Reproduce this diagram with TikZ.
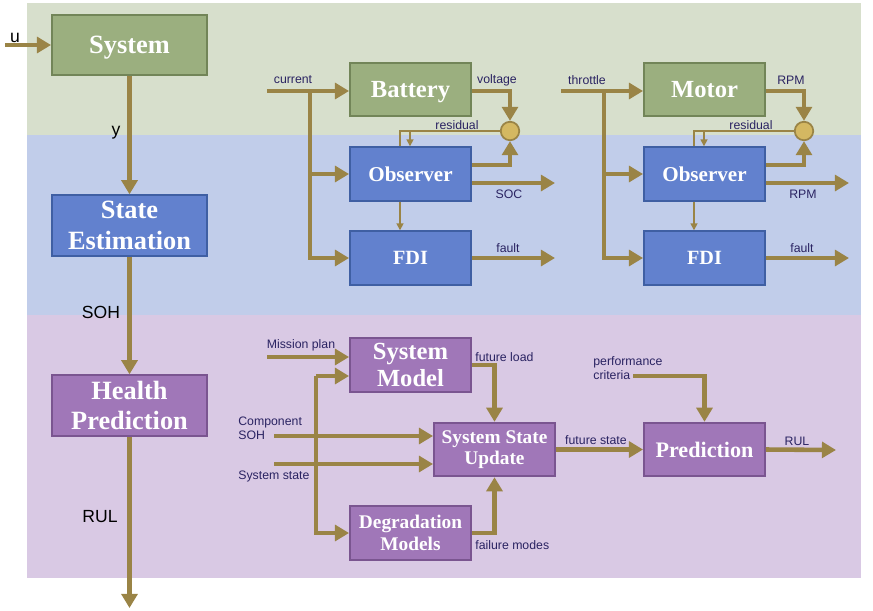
\documentclass[tikz,border=0pt]{standalone}
\usepackage{fontspec}
\setmainfont{Liberation Serif}
\setsansfont{Liberation Sans}
\usetikzlibrary{positioning, arrows.meta, calc}

\definecolor{bandgreen}{HTML}{D7DFCC}
\definecolor{bandblue}{HTML}{C1CDEA}
\definecolor{bandpurple}{HTML}{D9C9E4}
\definecolor{greenfill}{HTML}{9BAF7F}
\definecolor{greenline}{HTML}{728558}
\definecolor{bluefill}{HTML}{6281CE}
\definecolor{blueline}{HTML}{3F5FA3}
\definecolor{purplefill}{HTML}{A077B8}
\definecolor{purpleline}{HTML}{7A5590}
\definecolor{arrowcol}{HTML}{9A8446}
\definecolor{sumfill}{HTML}{D4B862}
\definecolor{labtxt}{HTML}{2A2362}

\newcommand{\fsz}[2]{\fontsize{#1}{#2}\selectfont}

\begin{document}
\begin{tikzpicture}[x=0.02cm, y=-0.02cm,
    box/.style={draw, line width=1.1pt, text=white, font=\bfseries, align=center, inner sep=0pt},
    greenbox/.style={box, fill=greenfill, draw=greenline},
    bluebox/.style={box, fill=bluefill, draw=blueline},
    purplebox/.style={box, fill=purplefill, draw=purpleline},
    bigbox/.style={minimum width=3.1cm, minimum height=1.21cm},
    smallbox/.style={minimum width=2.42cm, minimum height=1.07cm},
    flow/.style={draw=arrowcol, line width=2.6pt, -{Triangle[length=8pt,width=9pt]}},
    fine/.style={draw=arrowcol, line width=0.9pt},
    finearrow/.style={fine, -{Triangle[length=4pt,width=4pt]}},
    sumnode/.style={circle, draw=arrowcol, fill=sumfill, line width=1pt, minimum size=0.37cm, inner sep=0pt},
    lab/.style={font=\sffamily\fsz{7}{8}, text=labtxt, inner sep=0pt},
    mainlab/.style={font=\sffamily\fsz{10}{11}, text=black, inner sep=0pt}]

    \useasboundingbox (0,0) rectangle (873,610);

    % bands
    \fill[bandgreen] (27,3) rectangle (861,135);
    \fill[bandblue] (27,135) rectangle (861,315);
    \fill[bandpurple] (27,315) rectangle (861,578);

    % main chain
    \node[greenbox, bigbox, font=\bfseries\fsz{15}{17}, text depth=0pt] (system) at (129.5,45) {System};
    \node[bluebox, bigbox, font=\bfseries\fsz{15}{17.5}] (stateest) at (129.5,225.5) {State\\Estimation};
    \node[purplebox, bigbox, font=\bfseries\fsz{15}{17.5}] (healthpred) at (129.5,405.5) {Health\\Prediction};
    \coordinate (uin) at (5,45);
    \coordinate (rulout) at (129.5,608);
    \draw[flow] (uin) -- (system.west);
    \draw[flow] (system.south) -- (stateest.north);
    \draw[flow] (stateest.south) -- (healthpred.north);
    \draw[flow] (healthpred.south) -- (rulout);
    \node[mainlab] (ulab) at (15,38) {u};
    \node[mainlab] (ylab) at (116,133) {y};
    \node[mainlab] (sohlab) at (101,312) {SOH};
    \node[mainlab] (rullab) at (100,517) {RUL};

    % battery and motor estimators
    \foreach \dx/\plant/\inp/\outp/\est in {0/Battery/current/voltage/SOC, 294/Motor/throttle/RPM/RPM} {
        \begin{scope}[shift={(\dx,0)}]
            \node[greenbox, smallbox, font=\bfseries\fsz{14}{16}, text depth=0pt] (plant) at (410.5,89.5) {\plant};
            \node[bluebox, smallbox, font=\bfseries\fsz{12}{14}] (obs) at (410.5,174) {Observer};
            \node[bluebox, smallbox, font=\bfseries\fsz{11.5}{13}] (fdi) at (410.5,258) {FDI};
            \node[sumnode] (sum) at (510,131) {};
            \coordinate (inp) at (267,91);
            \coordinate (split) at (310,91);
            \coordinate (estout) at (555,183);
            \coordinate (faultout) at (555,258);
            \coordinate (resbend) at (400,131);
            \coordinate (restap) at (410,131);
            \draw[flow] (inp) -- (plant.west |- inp);
            \draw[flow] (split) |- (obs.west);
            \draw[flow] (split) |- (fdi.west);
            \draw[flow] (plant.east |- inp) -| (sum.north);
            \draw[flow] ($(obs.east)+(0,-9)$) -| (sum.south);
            \draw[flow] (obs.east |- estout) -- (estout);
            \draw[flow] (fdi.east) -- (faultout);
            \draw[fine] (sum.west) -- (resbend) -- (resbend |- obs.north);
            \draw[finearrow] (restap) -- (restap |- obs.north);
            \draw[finearrow] (obs.south -| resbend) -- (fdi.north -| resbend);
            \node[lab] (inlab) at (293,80) {\inp};
            \node[lab] (outlab) at (497,80) {\outp};
            \node[lab] (reslab) at (457,125) {residual};
            \node[lab] (estlab) at (509,194) {\est};
            \node[lab] (faultlab) at (508,248) {fault};
        \end{scope}
    }

    % prediction
    \node[purplebox, smallbox, font=\bfseries\fsz{14}{15.5}] (sysmodel) at (410.5,365) {System\\Model};
    \node[purplebox, smallbox, font=\bfseries\fsz{11}{12.2}] (ssu) at (494.5,449.5) {System State\\Update};
    \node[purplebox, smallbox, font=\bfseries\fsz{11}{12.5}] (degr) at (410.5,533) {Degradation\\Models};
    \node[purplebox, smallbox, font=\bfseries\fsz{12.6}{14}] (pred) at (704.5,449.5) {Prediction};
    \coordinate (mission) at (267,357);
    \coordinate (compsoh) at (274,436);
    \coordinate (sysstate) at (274,464);
    \coordinate (modelbus) at (316,376);
    \coordinate (perf) at (633,376);
    \coordinate (predout) at (836,450);
    \draw[flow] (mission) -- (sysmodel.west |- mission);
    \draw[flow] (modelbus) -- (sysmodel.west |- modelbus);
    \draw[flow] (modelbus) |- (degr.west);
    \draw[flow] (compsoh) -- (ssu.west |- compsoh);
    \draw[flow] (sysstate) -- (ssu.west |- sysstate);
    \draw[flow] (sysmodel.east) -| (ssu.north);
    \draw[flow] (degr.east) -| (ssu.south);
    \draw[flow] (ssu.east) -- (pred.west);
    \draw[flow] (perf) -| (pred.north);
    \draw[flow] (pred.east) -- (predout);
    \node[lab] (missionlab) at (301,345) {Mission plan};
    \node[lab, anchor=west, align=left] (compsohlab) at (238,428) {Component\\SOH};
    \node[lab, anchor=west] (sysstatelab) at (238,476) {System state};
    \node[lab, anchor=west] (loadlab) at (475,357) {future load};
    \node[lab, anchor=west] (failurelab) at (475,545) {failure modes};
    \node[lab] (futurelab) at (596,440) {future state};
    \node[lab, anchor=west, align=left] (perflab) at (593,368) {performance\\criteria};
    \node[lab] (rulpredlab) at (797,441) {RUL};
\end{tikzpicture}
\end{document}
